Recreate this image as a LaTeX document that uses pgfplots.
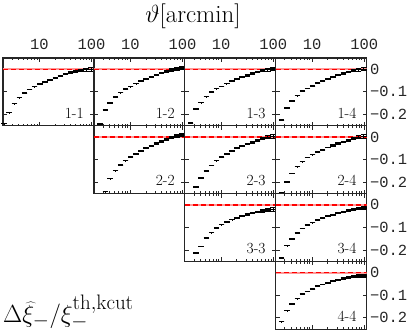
\documentclass[border=0pt]{standalone}
\usepackage{pgfplots}
\pgfplotsset{compat=1.18}
\usepackage{pgfplotstable}
\usepackage{fontspec}
\newfontfamily\monofont{Liberation Mono}

% theta [arcmin], relative deviation, error
\pgfplotstableread{
x y e
2.1 -0.240 0.001
2.6 -0.192 0.001
3.3 -0.152 0.001
4.1 -0.126 0.001
5.2 -0.105 0.001
6.5 -0.089 0.001
8.1 -0.077 0.001
10.2 -0.066 0.0012
12.8 -0.056 0.0015
16.0 -0.046 0.0018
20.1 -0.037 0.002
25.2 -0.029 0.0025
31.6 -0.021 0.003
39.7 -0.014 0.0035
49.8 -0.009 0.004
62.4 -0.005 0.005
78.3 -0.002 0.006
98.2 -0.001 0.007
}\tAA

\pgfplotstableread{
x y e
2.1 -0.300 0.001
2.6 -0.243 0.001
3.3 -0.180 0.001
4.1 -0.150 0.001
5.2 -0.123 0.001
6.5 -0.103 0.001
8.1 -0.087 0.001
10.2 -0.077 0.0012
12.8 -0.063 0.0015
16.0 -0.051 0.0018
20.1 -0.042 0.002
25.2 -0.033 0.0025
31.6 -0.025 0.003
39.7 -0.016 0.0035
49.8 -0.009 0.004
62.4 -0.003 0.005
78.3 0.002 0.006
98.2 0.006 0.007
}\tAB

\pgfplotstableread{
x y e
2.1 -0.295 0.001
2.6 -0.237 0.001
3.3 -0.176 0.001
4.1 -0.147 0.001
5.2 -0.121 0.001
6.5 -0.101 0.001
8.1 -0.086 0.001
10.2 -0.076 0.0012
12.8 -0.063 0.0015
16.0 -0.052 0.0018
20.1 -0.043 0.002
25.2 -0.035 0.0025
31.6 -0.027 0.003
39.7 -0.019 0.0035
49.8 -0.012 0.004
62.4 -0.006 0.005
78.3 -0.002 0.006
98.2 0.001 0.007
}\tAC

\pgfplotstableread{
x y e
2.1 -0.283 0.001
2.6 -0.225 0.001
3.3 -0.171 0.001
4.1 -0.141 0.001
5.2 -0.117 0.001
6.5 -0.097 0.001
8.1 -0.084 0.001
10.2 -0.074 0.0012
12.8 -0.062 0.0015
16.0 -0.050 0.0018
20.1 -0.041 0.002
25.2 -0.034 0.0025
31.6 -0.026 0.003
39.7 -0.018 0.0035
49.8 -0.012 0.004
62.4 -0.006 0.005
78.3 -0.002 0.006
98.2 0.000 0.007
}\tAD

\pgfplotstableread{
x y e
2.1 -0.370 0.001
2.6 -0.300 0.001
3.3 -0.241 0.001
4.1 -0.184 0.001
5.2 -0.149 0.001
6.5 -0.123 0.001
8.1 -0.104 0.001
10.2 -0.087 0.0012
12.8 -0.074 0.0015
16.0 -0.061 0.0018
20.1 -0.048 0.002
25.2 -0.038 0.0025
31.6 -0.028 0.003
39.7 -0.020 0.0035
49.8 -0.010 0.004
62.4 -0.003 0.005
78.3 0.004 0.006
98.2 0.010 0.007
}\tBB

\pgfplotstableread{
x y e
2.1 -0.350 0.001
2.6 -0.290 0.001
3.3 -0.221 0.001
4.1 -0.180 0.001
5.2 -0.150 0.001
6.5 -0.125 0.001
8.1 -0.104 0.001
10.2 -0.088 0.0012
12.8 -0.075 0.0015
16.0 -0.061 0.0018
20.1 -0.049 0.002
25.2 -0.038 0.0025
31.6 -0.030 0.003
39.7 -0.023 0.0035
49.8 -0.014 0.004
62.4 -0.007 0.005
78.3 -0.001 0.006
98.2 0.003 0.007
}\tBC

\pgfplotstableread{
x y e
2.1 -0.320 0.001
2.6 -0.245 0.001
3.3 -0.198 0.001
4.1 -0.160 0.001
5.2 -0.131 0.001
6.5 -0.109 0.001
8.1 -0.090 0.001
10.2 -0.078 0.0012
12.8 -0.067 0.0015
16.0 -0.056 0.0018
20.1 -0.046 0.002
25.2 -0.037 0.0025
31.6 -0.029 0.003
39.7 -0.021 0.0035
49.8 -0.014 0.004
62.4 -0.007 0.005
78.3 -0.001 0.006
98.2 0.003 0.007
}\tBD

\pgfplotstableread{
x y e
2.1 -0.380 0.001
2.6 -0.270 0.001
3.3 -0.212 0.001
4.1 -0.183 0.001
5.2 -0.146 0.001
6.5 -0.123 0.001
8.1 -0.102 0.001
10.2 -0.087 0.0012
12.8 -0.075 0.0015
16.0 -0.065 0.0018
20.1 -0.056 0.002
25.2 -0.049 0.0025
31.6 -0.042 0.003
39.7 -0.036 0.0035
49.8 -0.031 0.004
62.4 -0.027 0.005
78.3 -0.023 0.006
98.2 -0.020 0.007
}\tCC

\pgfplotstableread{
x y e
2.1 -0.300 0.001
2.6 -0.235 0.001
3.3 -0.180 0.001
4.1 -0.150 0.001
5.2 -0.124 0.001
6.5 -0.104 0.001
8.1 -0.089 0.001
10.2 -0.078 0.0012
12.8 -0.068 0.0015
16.0 -0.059 0.0018
20.1 -0.051 0.002
25.2 -0.044 0.0025
31.6 -0.037 0.003
39.7 -0.031 0.0035
49.8 -0.025 0.004
62.4 -0.020 0.005
78.3 -0.016 0.006
98.2 -0.013 0.007
}\tCD

\pgfplotstableread{
x y e
2.1 -0.278 0.001
2.6 -0.217 0.001
3.3 -0.168 0.001
4.1 -0.138 0.001
5.2 -0.115 0.001
6.5 -0.095 0.001
8.1 -0.083 0.001
10.2 -0.072 0.0012
12.8 -0.060 0.0015
16.0 -0.052 0.0018
20.1 -0.044 0.002
25.2 -0.038 0.0025
31.6 -0.031 0.003
39.7 -0.025 0.0035
49.8 -0.021 0.004
62.4 -0.017 0.005
78.3 -0.015 0.006
98.2 -0.014 0.007
}\tDD

\newcommand{\drawpanel}[4]{% at, table, label, extra keys
  \begin{semilogxaxis}[
    scale only axis, width=90.9bp, height=67.8bp,
    xmin=2, xmax=111, ymin=-0.25, ymax=0.05,
    xtick={10,100}, minor xtick={2,3,4,5,6,7,8,9,20,30,40,50,60,70,80,90},
    ytick={-0.2,-0.1,0}, xticklabels={}, yticklabels={},
    tick align=inside, major tick length=4bp, minor tick length=2.2bp,
    axis line style={black!85, line width=1.3bp},
    tick style={black!85, line width=0.9bp},
    tick label style={font=\fontsize{15.5}{18}\selectfont\monofont, text=black!85},
    #4, at={#1}, anchor=north west]
    \addplot[red!40, line width=1.7bp] coordinates {(2,0) (111,0)};
    \addplot[red, line width=1.4bp, dash pattern=on 5bp off 3bp] coordinates {(2,0) (111,0)};
    \addplot[black, only marks, mark=-, mark size=2.7bp, mark options={line width=1.4bp},
      error bars/.cd, y dir=both, y explicit,
      error bar style={line width=0.7bp},
      error mark options={rotate=90, line width=1bp, mark size=2.7bp}]
      table[x=x, y=y, y error=e] {#2};
    \node[anchor=base east, font=\fontsize{15.5}{18}\selectfont] at (rel axis cs:0.927,0.115) {#3};
  \end{semilogxaxis}}
\newcommand{\toprow}{xticklabels={10,100}, xticklabel pos=right, xticklabel style={yshift=5bp}}
\newcommand{\lastcol}{yticklabel pos=right, yticklabels={−0.2,−0.1,0}}

\begin{document}
\begin{tikzpicture}
\useasboundingbox (0,0) rectangle (415bp,335bp);
\drawpanel{(3bp,277bp)}{\tAA}{1-1}{\toprow}
\drawpanel{(93.9bp,277bp)}{\tAB}{1-2}{\toprow}
\drawpanel{(184.8bp,277bp)}{\tAC}{1-3}{\toprow}
\drawpanel{(275.7bp,277bp)}{\tAD}{1-4}{\toprow, \lastcol}
\drawpanel{(93.9bp,209.2bp)}{\tBB}{2-2}{}
\drawpanel{(184.8bp,209.2bp)}{\tBC}{2-3}{}
\drawpanel{(275.7bp,209.2bp)}{\tBD}{2-4}{\lastcol}
\drawpanel{(184.8bp,141.4bp)}{\tCC}{3-3}{}
\drawpanel{(275.7bp,141.4bp)}{\tCD}{3-4}{\lastcol}
\drawpanel{(275.7bp,73.6bp)}{\tDD}{4-4}{\lastcol}
\node[anchor=base, font=\fontsize{25}{30}\selectfont] at (193bp,312bp) {$\vartheta$[arcmin]};
\node[anchor=base west, font=\fontsize{30}{35}\selectfont, inner sep=0pt] at (3bp,12.5bp)
  {$\Delta\widehat{\xi}_-/\xi_-^{\mathrm{th,kcut}}$};
\end{tikzpicture}
\end{document}
